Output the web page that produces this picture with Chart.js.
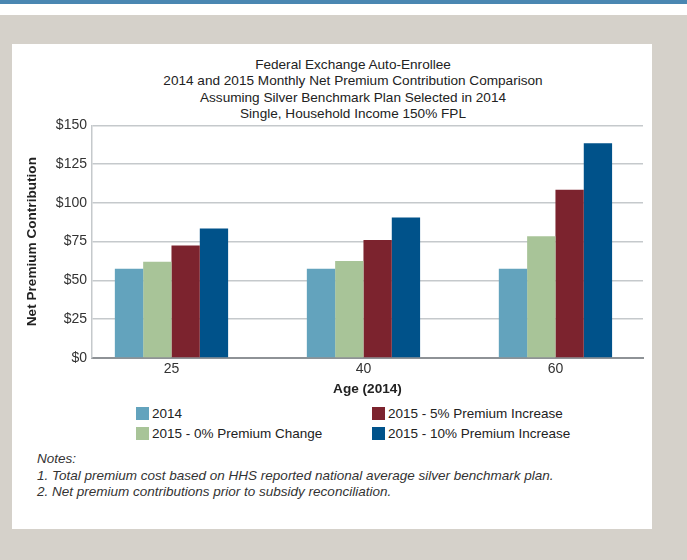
<!DOCTYPE html>
<html>
<head>
<meta charset="utf-8">
<script src="https://cdn.jsdelivr.net/npm/chart.js@4.4.1/dist/chart.umd.min.js"></script>
<style>
  html, body { margin: 0; padding: 0; }
  body {
    width: 687px; height: 560px; overflow: hidden; position: relative;
    background: #d5d1ca;
    font-family: "Liberation Sans", Arial, sans-serif;
    color: #222;
  }
  .topbar { position: absolute; left: 0; top: 0; width: 687px; height: 4px; background: #4a87b2; }
  .topwhite { position: absolute; left: 0; top: 4px; width: 687px; height: 11px; background: #fff; }
  .panel { position: absolute; left: 12px; top: 44px; width: 640px; height: 485px; background: #fff; }
  .title {
    position: absolute; left: 153px; top: 57px; width: 400px;
    text-align: center; font-size: 13.6px; line-height: 16.4px; color: #222;
  }
  #chartWrap { position: absolute; left: 12px; top: 112px; width: 640px; height: 285px; }
  .legend { position: absolute; font-size: 13.5px; color: #222; }
  .legend .item { position: absolute; white-space: nowrap; line-height: 14px; }
  .legend .box { position: absolute; left: 0; top: 0; width: 13px; height: 13px; }
  .legend .txt { position: absolute; left: 16px; top: 0; }
  .notes {
    position: absolute; left: 37px; top: 451px;
    font-size: 13.5px; line-height: 16.5px; font-style: italic; color: #333;
  }
</style>
</head>
<body>
<div class="topbar"></div>
<div class="topwhite"></div>
<div class="panel"></div>

<div class="title">
  Federal Exchange Auto-Enrollee<br>
  2014 and 2015 Monthly Net Premium Contribution Comparison<br>
  Assuming Silver Benchmark Plan Selected in 2014<br>
  Single, Household Income 150% FPL
</div>

<div id="chartWrap"><canvas id="premiumChart"></canvas></div>

<div class="legend" id="legend"></div>

<div class="notes">
  Notes:<br>
  1. Total premium cost based on HHS reported national average silver benchmark plan.<br>
  2. Net premium contributions prior to subsidy reconciliation.
</div>

<script>
// ages on the x axis
const ages = ['25', '40', '60'];

// monthly net premium contribution ($)
const premium2014 = [57.5, 57.5, 57.5];
const premium2015NoChange = [62, 62.5, 78.5];
const premium2015Plus5 = [72.5, 76, 108.5];
const premium2015Plus10 = [83.5, 90.5, 138.5];

const yTicks = [0, 25, 50, 75, 100, 125, 150];

const seriesNames = ['2014', '2015 - 0% Premium Change', '2015 - 5% Premium Increase', '2015 - 10% Premium Increase'];
const seriesColors = ['#63a3bd', '#a8c498', '#7c232e', '#00528a'];
const seriesValues = [premium2014, premium2015NoChange, premium2015Plus5, premium2015Plus10];

const toPoints = vals => vals.map((v, i) => ({ x: i, y: v }));

const datasets = seriesNames.map((name, i) => ({
  label: name,
  data: toPoints(seriesValues[i]),
  backgroundColor: seriesColors[i],
  borderWidth: 0,
  categoryPercentage: 0.59,
  barPercentage: 1.0
}));

const baseFont = { family: '"Liberation Sans", Arial, sans-serif', size: 14 };

new Chart(document.getElementById('premiumChart'), {
  type: 'bar',
  data: { datasets },
  options: {
    responsive: true,
    maintainAspectRatio: false,
    animation: false,
    layout: { padding: { left: 0, right: 9, top: 7, bottom: 0 } },
    plugins: {
      legend: { display: false },
      tooltip: { enabled: false }
    },
    scales: {
      x: {
        type: 'linear',
        offset: false,
        min: -0.414,
        max: 2.456,
        grid: { display: false, drawTicks: false, offset: false },
        border: { display: true, color: '#8e9296', width: 2 },
        ticks: {
          stepSize: 1,
          includeBounds: false,
          padding: 3,
          color: '#333',
          font: baseFont,
          callback: v => (Number.isInteger(v) && ages[v] !== undefined) ? ages[v] : ''
        },
        title: {
          display: true,
          text: 'Age (2014)',
          color: '#222',
          font: { family: baseFont.family, size: 13.6, weight: 'bold' },
          padding: { top: 0, bottom: 0 }
        }
      },
      y: {
        min: 0,
        max: 150,
        afterFit: scale => { scale.width = 80; },
        afterBuildTicks: scale => { scale.ticks = yTicks.map(v => ({ value: v })); },
        grid: { color: '#c5c9cc', lineWidth: 1.5, drawTicks: false },
        border: { display: true, color: '#c5c9cc', width: 1.5 },
        ticks: {
          padding: 5,
          color: '#333',
          font: baseFont,
          callback: v => '$' + v
        },
        title: {
          display: true,
          text: 'Net Premium Contribution',
          color: '#222',
          font: { family: baseFont.family, size: 13.6, weight: 'bold' },
          padding: { top: 12, bottom: 0 }
        }
      }
    }
  }
});

// two-column legend like the original
const legendPos = [
  { left: 136, top: 407 },
  { left: 136, top: 427 },
  { left: 372, top: 407 },
  { left: 372, top: 427 }
];
const legendEl = document.getElementById('legend');
seriesNames.forEach((name, i) => {
  const item = document.createElement('div');
  item.className = 'item';
  item.style.left = legendPos[i].left + 'px';
  item.style.top = legendPos[i].top + 'px';
  item.innerHTML = '<span class="box" style="background:' + seriesColors[i] + '"></span><span class="txt">' + name + '</span>';
  legendEl.appendChild(item);
});
</script>
</body>
</html>
